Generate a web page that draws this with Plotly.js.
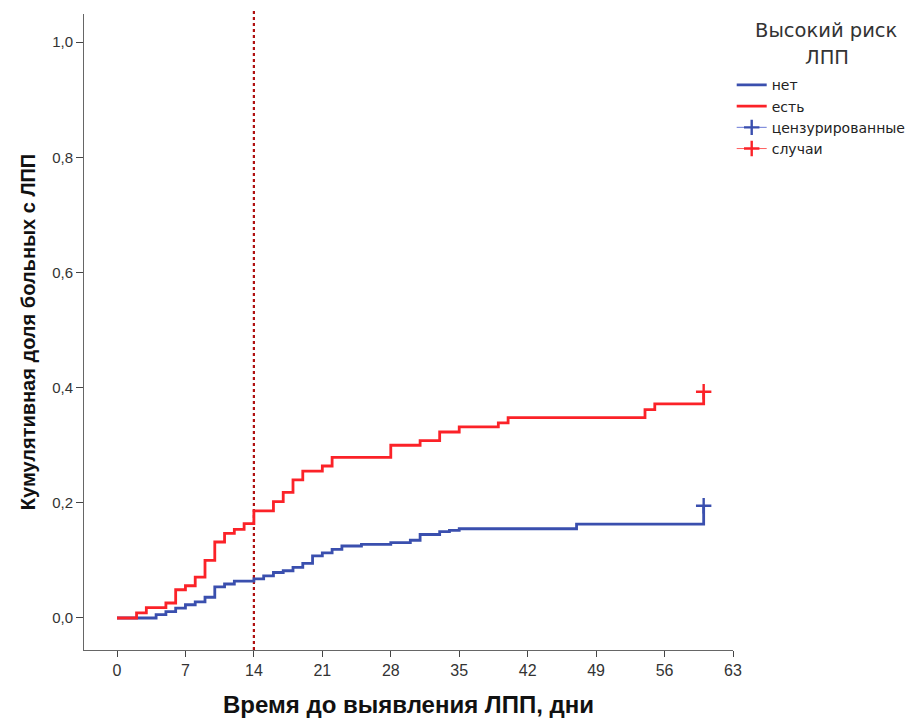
<!DOCTYPE html>
<html>
<head>
<meta charset="utf-8">
<script src="https://cdn.plot.ly/plotly-3.0.1.min.js"></script>
<style>html,body{margin:0;padding:0;background:#fff;}#chart{width:921px;height:718px;}</style>
</head>
<body>
<div id="chart"></div>
<script>
// Group "нет" (no high risk)
const daysNo = [0,4,5,6,7,8,9,10,11,12,14,15,16,17,18,19,20,21,22,23,25,28,30,31,33,34,35,47,60];
const cumNo  = [0,0.006,0.011,0.017,0.023,0.028,0.036,0.054,0.059,0.064,0.068,0.073,0.079,0.082,0.088,0.095,0.108,0.113,0.119,0.125,0.128,0.131,0.135,0.145,0.150,0.152,0.155,0.163,0.195];
// Group "есть" (high risk)
const daysYes = [0,2,3,5,6,7,8,9,10,11,12,13,14,16,17,18,19,21,22,28,31,33,35,39,40,54,55,60];
const cumYes  = [0,0.009,0.018,0.026,0.049,0.056,0.071,0.100,0.132,0.147,0.154,0.164,0.186,0.202,0.218,0.240,0.255,0.264,0.279,0.300,0.308,0.323,0.332,0.339,0.348,0.362,0.372,0.393];
// Censored points
const censorNoDay = [60], censorNoVal = [0.195];
const censorYesDay = [60], censorYesVal = [0.393];
// Reference line
const referenceDay = 14;
// Ticks
const xTicks = [0,7,14,21,28,35,42,49,56,63];
const yTicks = [0,0.2,0.4,0.6,0.8,1.0];
const yTickText = ['0,0','0,2','0,4','0,6','0,8','1,0'];
const legendTitleLines = ['Высокий риск', 'ЛПП'];

const blue = '#3a4fae';
const red = '#fb2228';
const font = 'Liberation Sans, Arial, sans-serif';
const wideFont = 'DejaVu Sans, Liberation Sans, sans-serif';

const traces = [
  {x: daysNo, y: cumNo, mode: 'lines', line: {shape: 'hv', color: blue, width: 2.8}, name: 'нет'},
  {x: daysYes, y: cumYes, mode: 'lines', line: {shape: 'hv', color: red, width: 2.8}, name: 'есть'},
  {x: censorNoDay, y: censorNoVal, mode: 'lines+markers', line: {color: '#6a7ad6', width: 1},
   marker: {symbol: 'cross-thin-open', size: 11, color: blue, line: {color: blue, width: 2.4}}, name: 'цензурированные'},
  {x: censorYesDay, y: censorYesVal, mode: 'lines+markers', line: {color: '#ff6060', width: 1},
   marker: {symbol: 'cross-thin-open', size: 11, color: red, line: {color: red, width: 2.4}}, name: 'случаи'}
];

const layout = {
  width: 921, height: 718,
  margin: {l: 84, r: 188, t: 14, b: 68, autoexpand: false},
  paper_bgcolor: '#fff', plot_bgcolor: '#fff',
  font: {family: font, color: '#222', size: 13},
  showlegend: true,
  legend: {
    x: 0.998, y: 0.913, xanchor: 'left', yanchor: 'top',
    font: {size: 14, color: '#222', family: wideFont},
    tracegroupgap: 0, itemwidth: 30, traceorder: 'normal',
    bgcolor: 'rgba(0,0,0,0)'
  },
  annotations: [
    {xref: 'paper', yref: 'paper', x: 1.1448, y: 0.9733, xanchor: 'center', yanchor: 'middle',
     text: legendTitleLines[0], showarrow: false, font: {size: 19.5, color: '#333', family: wideFont}},
    {xref: 'paper', yref: 'paper', x: 1.1448, y: 0.9316, xanchor: 'center', yanchor: 'middle',
     text: legendTitleLines[1], showarrow: false, font: {size: 19.5, color: '#333', family: wideFont}}
  ],
  xaxis: {
    range: [-3.375, 63], tickvals: xTicks, ticktext: xTicks.map(String),
    showgrid: false, zeroline: false, showline: true, linecolor: '#666', linewidth: 1,
    ticks: 'outside', ticklen: 6, tickcolor: '#444', tickfont: {size: 16, color: '#333'},
    title: {text: '<b>Время до выявления ЛПП, дни</b>', font: {size: 24, color: '#111'}, standoff: 17}
  },
  yaxis: {
    range: [-0.0556, 1.049], tickvals: yTicks, ticktext: yTickText,
    showgrid: false, zeroline: false, showline: true, linecolor: '#666', linewidth: 1,
    ticks: 'outside', ticklen: 7, tickcolor: '#444', tickfont: {size: 15, color: '#333'},
    title: {text: '<b>Кумулятивная доля больных с ЛПП</b>', font: {size: 20, color: '#111'}, standoff: 11}
  },
  shapes: [{
    type: 'line', xref: 'x', yref: 'paper', x0: referenceDay, x1: referenceDay, y0: 0, y1: 1.006,
    line: {color: '#b01010', width: 2.2, dash: 'dot'}, layer: 'below'
  }]
};

Plotly.newPlot('chart', traces, layout, {displayModeBar: false, staticPlot: true});
</script>
</body>
</html>
